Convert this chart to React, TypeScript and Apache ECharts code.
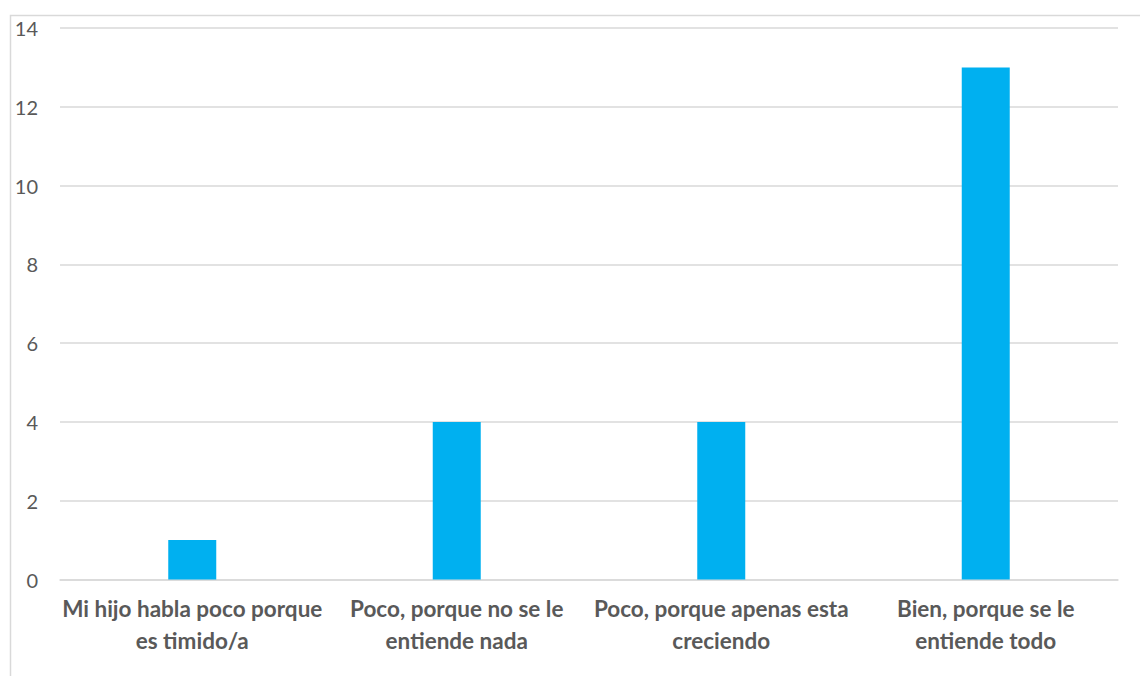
import React, { useEffect, useRef } from "react";
import * as echarts from "echarts";

const categories = [
  "Mi hijo habla poco porque\nes timido/a",
  "Poco, porque no se le\nentiende nada",
  "Poco, porque apenas esta\ncreciendo",
  "Bien, porque se le\nentiende todo",
];
const values = [1, 4, 4, 13];
const yTicks = { min: 0, max: 14, interval: 2 };

export default function App() {
  const ref = useRef<HTMLDivElement>(null);
  useEffect(() => {
    const chart = echarts.init(ref.current!, null, { renderer: "svg" });
    chart.setOption({
      animation: false,
      graphic: [
        {
          type: "rect",
          left: 0,
          top: 5,
          shape: { x: 0, y: 0, width: 1200, height: 700 },
          style: { fill: "none", stroke: "#d9d9d9", lineWidth: 1.5 },
          silent: true,
        },
      ],
      grid: { left: 52, right: 30, top: 20, bottom: 96.5, containLabel: false },
      xAxis: {
        type: "category",
        data: categories,
        axisLine: { show: true, lineStyle: { color: "#d9d9d9", width: 1.5 } },
        axisTick: { show: false },
        axisLabel: {
          color: "#595959",
          fontFamily: "Lato",
          fontWeight: "bold",
          fontSize: 22.5,
          lineHeight: 32,
          margin: 13,
          interval: 0,
        },
      },
      yAxis: {
        type: "value",
        min: yTicks.min,
        max: yTicks.max,
        interval: yTicks.interval,
        axisLine: { show: false },
        axisTick: { show: false },
        axisLabel: {
          color: "#595959",
          fontFamily: "Lato",
          fontSize: 20,
          margin: 22,
        },
        splitLine: { lineStyle: { color: "#d9d9d9", width: 1.5 } },
      },
      series: [
        {
          type: "bar",
          data: values,
          barWidth: 48,
          itemStyle: { color: "#00B0F0" },
        },
      ],
    });
    return () => chart.dispose();
  }, []);
  return <div ref={ref} style={{ width: 1140, height: 668 }} />;
}
